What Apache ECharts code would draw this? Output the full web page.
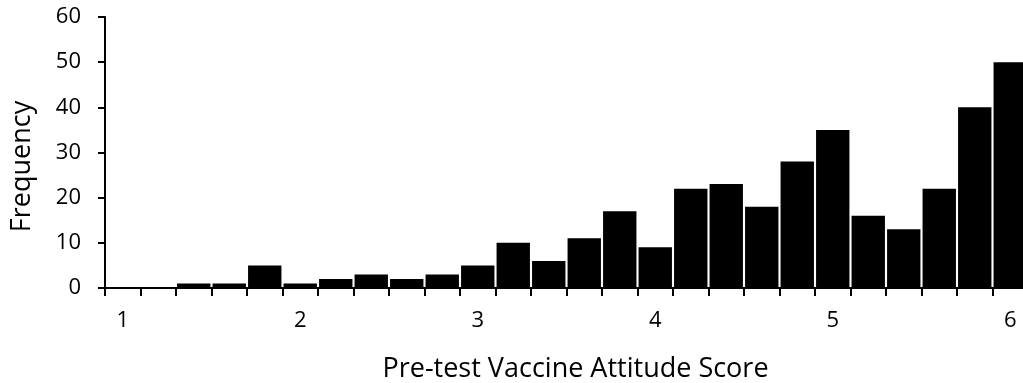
<!DOCTYPE html>
<html>
<head>
<meta charset="utf-8">
<style>
  html, body { margin: 0; padding: 0; background: #fff; }
  #chart { width: 1023px; height: 383px; }
</style>
<script src="https://cdn.jsdelivr.net/npm/echarts@6/dist/echarts.min.js"></script>
</head>
<body>
<div id="chart"></div>
<script>
// Histogram bins of the pre-test score (bin labels) and their counts
const binLabels = ['1', '1.2', '1.4', '1.6', '1.8', '2', '2.2', '2.4', '2.6', '2.8',
                   '3', '3.2', '3.4', '3.6', '3.8', '4', '4.2', '4.4', '4.6', '4.8',
                   '5', '5.2', '5.4', '5.6', '5.8', '6'];
const frequency = [0, 0, 1, 1, 5, 1, 2, 3, 2, 3,
                   5, 10, 6, 11, 17, 9, 22, 23, 18, 28,
                   35, 16, 13, 22, 40, 50];
const shownTicks = ['1', '2', '3', '4', '5', '6'];
const yTicks = [0, 10, 20, 30, 40, 50, 60];

const FONT = 'Open Sans';
const chart = echarts.init(document.getElementById('chart'));
chart.setOption({
  animation: false,
  backgroundColor: '#ffffff',
  // the last bin runs past the right edge of the canvas, so no auto-fitting
  grid: { left: 105, top: 17, height: 271, width: 923, outerBoundsMode: 'none', containLabel: false },
  xAxis: {
    type: 'category',
    data: binLabels,
    name: 'Pre-test Vaccine Attitude Score',
    nameLocation: 'middle',
    nameGap: 68,
    nameTextStyle: { fontFamily: FONT, fontSize: 27, color: '#000', padding: [0, 0, 0, 18] },
    axisLine: { lineStyle: { color: '#000', width: 2 } },
    axisTick: { show: true, interval: 0, length: 8, lineStyle: { color: '#000', width: 2 } },
    axisLabel: {
      interval: 0,
      formatter: v => (shownTicks.includes(v) ? v : ''),
      margin: 22,
      fontFamily: FONT, fontSize: 22, color: '#000'
    }
  },
  yAxis: {
    type: 'value',
    min: yTicks[0],
    max: yTicks[yTicks.length - 1],
    interval: 10,
    name: 'Frequency',
    nameLocation: 'middle',
    nameGap: 69,
    nameRotate: 90,
    nameTextStyle: { fontFamily: FONT, fontSize: 27, color: '#000', padding: [0, 28, 0, 0] },
    axisLine: { show: true, lineStyle: { color: '#000', width: 2 } },
    axisTick: { show: true, length: 7, lineStyle: { color: '#000', width: 2 } },
    axisLabel: { margin: 24, fontFamily: FONT, fontSize: 22, color: '#000' },
    splitLine: { show: false }
  },
  series: [{
    type: 'bar',
    data: frequency,
    barCategoryGap: '6%',
    itemStyle: { color: '#000' }
  }]
});
</script>
</body>
</html>
